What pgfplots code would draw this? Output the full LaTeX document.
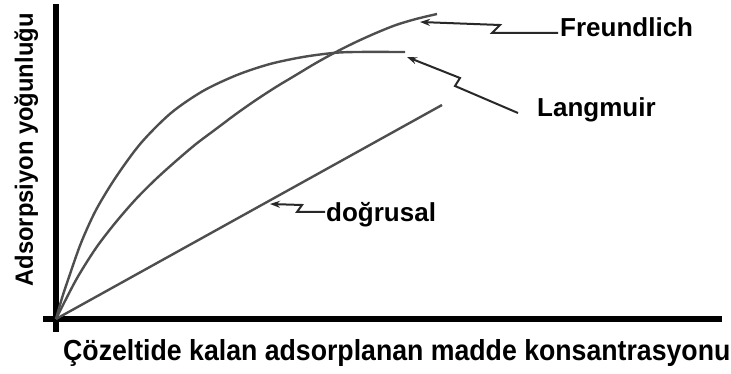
\documentclass[border=0pt]{standalone}
\usepackage{fontspec}
\setmainfont{Liberation Sans}
\usepackage{graphicx}
\usepackage{pgfplots}
\pgfplotsset{compat=1.18}
\usetikzlibrary{arrows.meta}

\definecolor{curve}{RGB}{78,78,78}
\definecolor{pointer}{RGB}{40,40,40}

\begin{document}
\begin{tikzpicture}
\path[use as bounding box] (-56pt,-55pt) rectangle (675pt,319pt);
\begin{axis}[
  at={(0pt,0pt)}, anchor=origin,
  scale only axis, width=679pt, height=328pt,
  xmin=-13, xmax=666, ymin=-13, ymax=315,
  axis lines=middle,
  axis line style={-, line width=5.5pt, black},
  every inner x axis line/.append style={-},
  every inner y axis line/.append style={-},
  ticks=none, clip=false,
]
% Langmuir isotherm
\addplot[curve, line width=2.4pt, smooth] coordinates {
  (0,0) (6,21) (13,42) (25,76) (40,109) (60,142) (85,176) (115,206)
  (147,228) (181,244) (214,255) (247,262) (277,266) (300,267) (349,267)
};
% Freundlich isotherm
\addplot[curve, line width=2.4pt, smooth] coordinates {
  (0,0) (20,39) (40,71) (60,97) (80,120) (100,140) (120,158) (140,175)
  (160,190) (180,205) (200,219) (220,232) (240,244) (260,256) (280,267)
  (300,277) (320,286) (340,294) (360,300) (381,305)
};
% linear isotherm
\addplot[curve, line width=2.4pt] coordinates {(0,0) (386,214)};

% pointers and names
\draw[pointer, line width=2pt, {Stealth[length=10pt,width=7pt]}-]
  (axis cs:364,297) -- (axis cs:444,294) -- (axis cs:436,286) -- (axis cs:502,286);
\node[anchor=base west, inner sep=0pt, font=\fontsize{26}{30}\selectfont\bfseries]
  at (axis cs:504,282) {Freundlich};

\draw[pointer, line width=2pt, {Stealth[length=10pt,width=7pt]}-]
  (axis cs:351,262) -- (axis cs:404,241) -- (axis cs:399,233) -- (axis cs:462,206);
\node[anchor=base west, inner sep=0pt, font=\fontsize{26}{30}\selectfont\bfseries]
  at (axis cs:481,202) {Langmuir};

\draw[pointer, line width=2pt, {Stealth[length=10pt,width=7pt]}-]
  (axis cs:214,115) -- (axis cs:246,114) -- (axis cs:241,107) -- (axis cs:269,107);
\node[anchor=base west, inner sep=0pt, font=\fontsize{26}{30}\selectfont\bfseries]
  at (axis cs:270,97) {doğrusal};

% axis titles
\node[anchor=base west, inner sep=0pt, font=\fontsize{29}{34}\selectfont\bfseries]
  at (axis cs:7,-42) {\scalebox{0.92}[1]{Çözeltide kalan adsorplanan madde konsantrasyonu}};
\node[anchor=base, rotate=90, inner sep=0pt, font=\fontsize{25}{30}\selectfont\bfseries]
  at (axis cs:-23,169) {\scalebox{0.95}[1]{Adsorpsiyon yoğunluğu}};
\end{axis}
\end{tikzpicture}
\end{document}
